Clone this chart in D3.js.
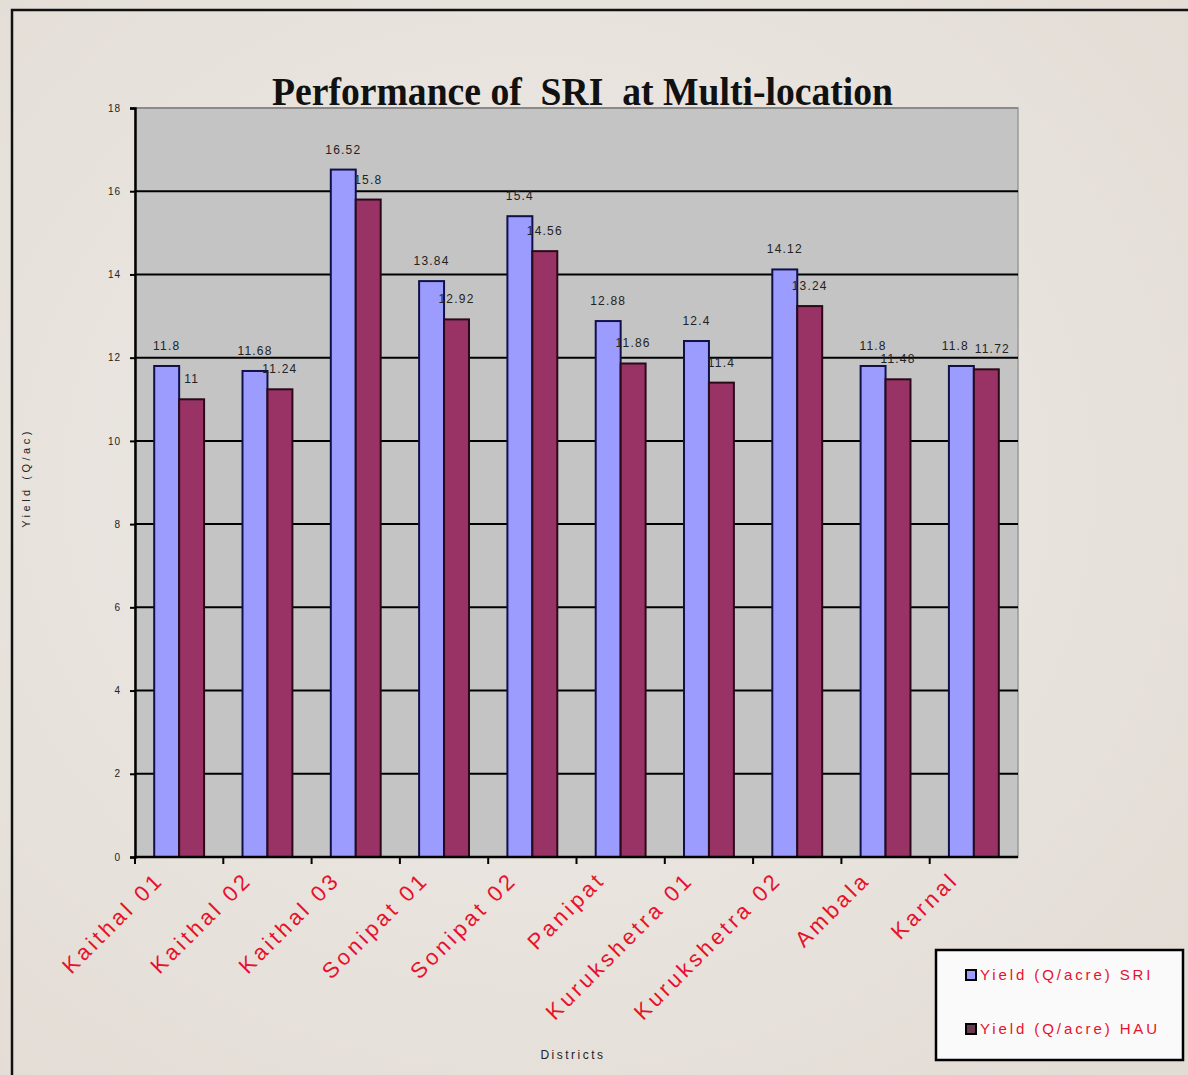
<!DOCTYPE html>
<html>
<head>
<meta charset="utf-8">
<script src="https://cdn.jsdelivr.net/npm/d3@7"></script>
<style>
  html, body { margin: 0; padding: 0; background: #ebe6e1; }
  svg { display: block; }
</style>
</head>
<body>
<svg id="chart" width="1188" height="1075"></svg>
<script>
// ---- data ----
const categories = ["Kaithal 01", "Kaithal 02", "Kaithal 03", "Sonipat 01", "Sonipat 02",
                    "Panipat", "Kurukshetra 01", "Kurukshetra 02", "Ambala", "Karnal"];
const sriValues = [11.8, 11.68, 16.52, 13.84, 15.4, 12.88, 12.4, 14.12, 11.8, 11.8];
const hauValues = [11, 11.24, 15.8, 12.92, 14.56, 11.86, 11.4, 13.24, 11.48, 11.72];
const seriesNames = ["Yield (Q/acre) SRI", "Yield (Q/acre) HAU"];
const yTicks = [0, 2, 4, 6, 8, 10, 12, 14, 16, 18];
const titleText = "Performance of  SRI  at Multi-location";
const yTitle = "Yield (Q/ac)";
const xTitle = "Districts";

// ---- layout ----
const W = 1188, H = 1075;
const plot = { left: 135, right: 1018, top: 108, bottom: 857 };
const colors = { sri: "#9c9cff", hau: "#993366", plotBg: "#c4c4c4" };

const svg = d3.select("#chart");

// background
const defs = svg.append("defs");
const rg = defs.append("radialGradient").attr("id", "bgGrad").attr("cx", "45%").attr("cy", "45%").attr("r", "75%");
rg.append("stop").attr("offset", "0%").attr("stop-color", "#eeebe7");
rg.append("stop").attr("offset", "100%").attr("stop-color", "#e3dcd5");
svg.append("rect").attr("width", W).attr("height", H).attr("fill", "url(#bgGrad)");

// outer frame (top and left edges visible)
svg.append("rect").attr("x", 12).attr("y", 10).attr("width", W + 20).attr("height", H + 20)
  .attr("fill", "none").attr("stroke", "#111").attr("stroke-width", 2.5);

// scales
const x0 = d3.scaleBand().domain(categories).range([plot.left, plot.right]).paddingInner(0).paddingOuter(0);
const x1 = d3.scaleBand().domain(["sri", "hau"]).range([0, x0.bandwidth()]).paddingInner(0).paddingOuter(0.77);
const y = d3.scaleLinear().domain([0, 18]).range([plot.bottom, plot.top]);

// plot area
svg.append("rect").attr("x", plot.left).attr("y", plot.top)
  .attr("width", plot.right - plot.left).attr("height", plot.bottom - plot.top)
  .attr("fill", colors.plotBg).attr("stroke", "#9a9a9a").attr("stroke-width", 1.5);

// gridlines
svg.append("g").selectAll("line").data(yTicks.filter(t => t > 0)).join("line")
  .attr("x1", plot.left).attr("x2", plot.right)
  .attr("y1", d => y(d)).attr("y2", d => y(d))
  .attr("stroke", d => d === 18 ? "#8a8a8a" : "#000").attr("stroke-width", 2);

// data rows
const rows = categories.map((c, i) => ({ cat: c, sri: sriValues[i], hau: hauValues[i] }));

const groups = svg.append("g").selectAll("g").data(rows).join("g")
  .attr("transform", d => `translate(${x0(d.cat)},0)`);

groups.selectAll("rect").data(d => [{ k: "sri", v: d.sri }, { k: "hau", v: d.hau }]).join("rect")
  .attr("x", d => x1(d.k)).attr("width", x1.bandwidth())
  .attr("y", d => y(d.v)).attr("height", d => y(0) - y(d.v))
  .attr("fill", d => colors[d.k])
  .attr("stroke", d => d.k === "sri" ? "#10104a" : "#2a0a18").attr("stroke-width", 2);

// data labels (nudge apart when the two labels sit at nearly the same height)
groups.selectAll("text.lbl").data(d => {
    const close = Math.abs(y(d.sri) - y(d.hau)) < 12;
    return [{ k: "hau", v: d.hau, dx: close ? 6 : 0 }, { k: "sri", v: d.sri, dx: close ? -6 : 0 }];
  }).join("text")
  .attr("class", "lbl")
  .attr("x", d => x1(d.k) + x1.bandwidth() / 2 + d.dx)
  .attr("y", d => y(d.v) - 16)
  .attr("text-anchor", "middle")
  .attr("font-family", "Arial, 'Liberation Sans', sans-serif")
  .attr("font-size", 12).attr("letter-spacing", 1.2).attr("fill", "#222")
  .text(d => String(d.v));

// y axis
const yAxis = d3.axisLeft(y).tickValues(yTicks).tickSize(5).tickPadding(9).tickFormat(d3.format("d"));
const gy = svg.append("g").attr("transform", `translate(${plot.left},0)`).call(yAxis);
gy.select(".domain").attr("stroke", "#000").attr("stroke-width", 2.5);
gy.selectAll(".tick line").attr("stroke", "#000").attr("stroke-width", 2);
gy.selectAll(".tick text").attr("font-family", "Arial, sans-serif").attr("font-size", 10)
  .attr("letter-spacing", 1).attr("fill", "#222");

// x axis (ticks at band boundaries)
const gx = svg.append("g").attr("transform", `translate(0,${plot.bottom})`);
gx.append("line").attr("x1", plot.left).attr("x2", plot.right).attr("y1", 0).attr("y2", 0)
  .attr("stroke", "#000").attr("stroke-width", 2.5);
gx.selectAll("line.tk").data(categories).join("line").attr("class", "tk")
  .attr("x1", d => x0(d)).attr("x2", d => x0(d)).attr("y1", 0).attr("y2", 7)
  .attr("stroke", "#000").attr("stroke-width", 2);

// x category labels
gx.selectAll("text.cat").data(categories).join("text").attr("class", "cat")
  .attr("transform", d => `translate(${x0(d) + x0.bandwidth() / 2 - 14},${24}) rotate(-45)`)
  .attr("text-anchor", "end")
  .attr("font-family", "Arial, 'Liberation Sans', sans-serif")
  .attr("font-size", 22).attr("letter-spacing", 3.5)
  .attr("fill", "#e8102a")
  .text(d => d);

// title
svg.append("text").attr("x", 272).attr("y", 105).attr("text-anchor", "start")
  .attr("font-family", "'Liberation Serif', 'Times New Roman', serif").attr("font-weight", "bold")
  .attr("font-size", 39).attr("fill", "#111")
  .attr("textLength", 621).attr("lengthAdjust", "spacingAndGlyphs")
  .style("white-space", "pre")
  .text(titleText);

// axis titles
svg.append("text").attr("transform", "translate(30,478) rotate(-90)")
  .attr("text-anchor", "middle").attr("font-family", "Arial, sans-serif")
  .attr("font-size", 11).attr("letter-spacing", 3.5).attr("fill", "#222").text(yTitle);
svg.append("text").attr("x", 573).attr("y", 1059).attr("text-anchor", "middle")
  .attr("font-family", "Arial, sans-serif").attr("font-size", 12).attr("letter-spacing", 2.5)
  .attr("fill", "#222").text(xTitle);

// legend
const lg = svg.append("g").attr("transform", "translate(936,950)");
lg.append("rect").attr("width", 247).attr("height", 110).attr("fill", "#fbfafa")
  .attr("stroke", "#000").attr("stroke-width", 2.5);
const legendItems = [{ name: seriesNames[0], c: colors.sri }, { name: seriesNames[1], c: "#6a3a50" }];
const li = lg.selectAll("g.it").data(legendItems).join("g").attr("class", "it")
  .attr("transform", (d, i) => `translate(0,${i * 54})`);
li.append("rect").attr("x", 30).attr("y", 20).attr("width", 10).attr("height", 10)
  .attr("fill", d => d.c).attr("stroke", "#000").attr("stroke-width", 2);
li.append("text").attr("x", 44).attr("y", 30)
  .attr("font-family", "Arial, sans-serif").attr("font-size", 15).attr("letter-spacing", 2.9)
  .attr("fill", "#e8102a")
  .text(d => d.name);
</script>
</body>
</html>
